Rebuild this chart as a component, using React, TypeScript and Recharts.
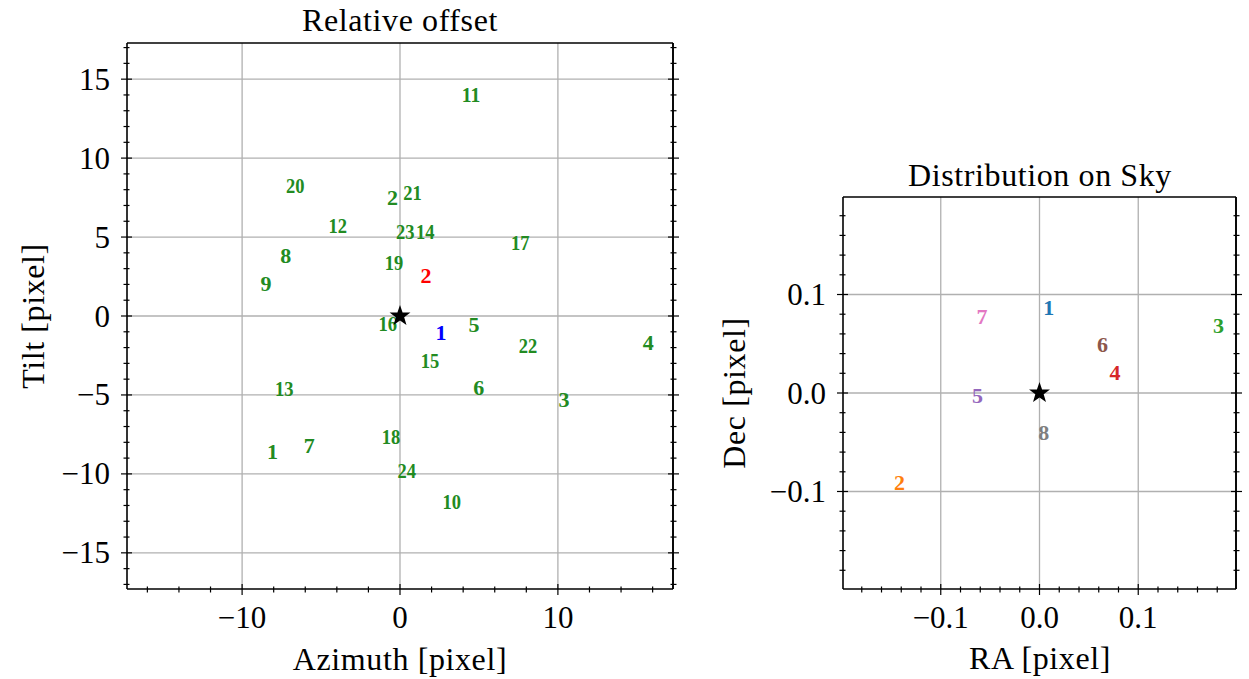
import React from 'react';
import { ScatterChart, Scatter, XAxis, YAxis, ReferenceLine } from 'recharts';

// ---------- Relative offset panel (azimuth / tilt, pixels) ----------
const camIds = ['1', '2', '3', '4', '5', '6', '7', '8', '9', '10', '11', '12', '13', '14', '15', '16', '17', '18', '19', '20', '21', '22', '23', '24'];
const camAzimuth = [-8.08, -0.48, 10.38, 15.72, 4.68, 4.98, -5.75, -7.24, -8.48, 3.28, 4.5, -3.94, -7.33, 1.6, 1.9, -0.77, 7.62, -0.57, -0.38, -6.63, 0.79, 8.1, 0.34, 0.43];
const camTilt = [-8.6, 7.48, -5.29, -1.67, -0.53, -4.52, -8.22, 3.81, 2.05, -11.78, 14.0, 5.75, -4.61, 5.33, -2.85, -0.46, 4.67, -7.61, 3.38, 8.29, 7.82, -1.87, 5.33, -9.81];

const redIds = ['2'];
const redAzimuth = [1.65];
const redTilt = [2.58];

const blueIds = ['1'];
const blueAzimuth = [2.6];
const blueTilt = [-1.04];

const offsetDomain: [number, number] = [-17.29, 17.29];
const offsetXTicks = [-16, -14, -12, -10, -8, -6, -4, -2, 0, 2, 4, 6, 8, 10, 12, 14, 16];
const offsetXMajor = [-10, 0, 10];
const offsetYTicks = [-17, -16, -15, -14, -13, -12, -11, -10, -9, -8, -7, -6, -5, -4, -3, -2, -1, 0, 1, 2, 3, 4, 5, 6, 7, 8, 9, 10, 11, 12, 13, 14, 15, 16, 17];
const offsetYMajor = [-15, -10, -5, 0, 5, 10, 15];

// ---------- Distribution on sky panel (RA / Dec, pixels) ----------
const skyIds = ['1', '2', '3', '4', '5', '6', '7', '8'];
const skyRA = [0.0094, -0.1418, 0.1812, 0.0765, -0.0629, 0.0639, -0.0582, 0.0044];
const skyDec = [0.0864, -0.0908, 0.0682, 0.0212, -0.0027, 0.0497, 0.0773, -0.0404];

const skyDomain: [number, number] = [-0.199, 0.199];
const skyTicks = [-0.18, -0.16, -0.14, -0.12, -0.1, -0.08, -0.06, -0.04, -0.02, 0, 0.02, 0.04, 0.06, 0.08, 0.1, 0.12, 0.14, 0.16, 0.18];
const skyMajor = [-0.1, 0, 0.1];

const originPoint = [{ x: 0, y: 0 }];

// ---------- styling ----------
const FONT = '"Liberation Serif", "Times New Roman", serif';
const GRID = '#b0b0b0';
const skyPalette = ['#1f77b4', '#ff7f0e', '#2ca02c', '#d62728', '#9467bd', '#8c564b', '#e377c2', '#7f7f7f'];

const zip = (ids: string[], xs: number[], ys: number[]) =>
  ids.map((id, i) => ({ id, x: xs[i], y: ys[i], idx: i }));

const camData = zip(camIds, camAzimuth, camTilt);
const redData = zip(redIds, redAzimuth, redTilt);
const blueData = zip(blueIds, blueAzimuth, blueTilt);
const skyData = zip(skyIds, skyRA, skyDec);

const isIn = (list: number[], v: number) => list.some((m) => Math.abs(m - v) < 1e-9);

const fmtInt = (v: number) => (v < 0 ? '\u2212' + Math.abs(v) : String(v));
const fmtOne = (v: number) => (v < 0 ? '\u2212' + Math.abs(v).toFixed(1) : Math.abs(v).toFixed(1));

type Side = 'bottom' | 'top' | 'left' | 'right';

// Tick marks cross the frame (in and out); labels only on bottom/left majors.
function makeTick(side: Side, majors: number[], fmt?: (v: number) => string) {
  return (props: any) => {
    const { x, y, payload } = props;
    const v = payload.value as number;
    const major = isIn(majors, v);
    const out = major ? 6 : 3.5;
    const inn = major ? 5 : 2.5;
    const sw = 1.2;
    let line;
    let label = null;
    if (side === 'bottom') {
      line = <line x1={x} y1={y - inn} x2={x} y2={y + out} stroke="#000" strokeWidth={sw} />;
      if (major && fmt)
        label = (
          <text x={x} y={y + 39} textAnchor="middle" fontFamily={FONT} fontSize={31} fill="#000">
            {fmt(v)}
          </text>
        );
    } else if (side === 'top') {
      line = <line x1={x} y1={y + inn} x2={x} y2={y - out} stroke="#000" strokeWidth={sw} />;
    } else if (side === 'left') {
      line = <line x1={x - out} y1={y} x2={x + inn} y2={y} stroke="#000" strokeWidth={sw} />;
      if (major && fmt)
        label = (
          <text x={x - 17} y={y} dy="0.34em" textAnchor="end" fontFamily={FONT} fontSize={31} fill="#000">
            {fmt(v)}
          </text>
        );
    } else {
      line = <line x1={x + out} y1={y} x2={x - inn} y2={y} stroke="#000" strokeWidth={sw} />;
    }
    return (
      <g>
        {line}
        {label}
      </g>
    );
  };
}

// Each point is drawn as its bold index number, centred on the data position.
const labelShape = (colorOf: (p: any) => string) => (props: any) => {
  const { cx, cy, payload } = props;
  const digits = String(payload.id).length;
  return (
    <text
      x={cx}
      y={cy}
      dy="0.34em"
      textAnchor="middle"
      fontFamily={FONT}
      fontWeight="bold"
      fontSize={22}
      textLength={digits > 1 ? 18.5 : undefined}
      lengthAdjust="spacingAndGlyphs"
      fill={colorOf(payload)}
    >
      {payload.id}
    </text>
  );
};

const starShape = (props: any) => {
  const { cx, cy } = props;
  const R = 11;
  const r = 4.4;
  const pts: string[] = [];
  for (let k = 0; k < 10; k++) {
    const rad = k % 2 === 0 ? R : r;
    const a = -Math.PI / 2 + (k * Math.PI) / 5;
    pts.push(`${cx + rad * Math.cos(a)},${cy + rad * Math.sin(a)}`);
  }
  return <polygon points={pts.join(' ')} fill="#000" />;
};

const axisLine = { stroke: '#000', strokeWidth: 1.6 };

function OffsetPanel() {
  return (
    <ScatterChart width={720} height={679} margin={{ top: 43, right: 0, bottom: 0, left: 0 }}>
      <XAxis
        xAxisId="b"
        type="number"
        dataKey="x"
        orientation="bottom"
        domain={offsetDomain}
        allowDataOverflow
        ticks={offsetXTicks}
        interval={0}
        height={90}
        tickSize={0}
        tickMargin={0}
        tickLine={false}
        axisLine={axisLine}
        tick={makeTick('bottom', offsetXMajor, fmtInt)}
      />
      <XAxis
        xAxisId="t"
        type="number"
        orientation="top"
        domain={offsetDomain}
        allowDataOverflow
        ticks={offsetXTicks}
        interval={0}
        height={0}
        tickSize={0}
        tickMargin={0}
        tickLine={false}
        axisLine={axisLine}
        tick={makeTick('top', offsetXMajor)}
      />
      <YAxis
        yAxisId="l"
        type="number"
        dataKey="y"
        orientation="left"
        domain={offsetDomain}
        allowDataOverflow
        ticks={offsetYTicks}
        interval={0}
        width={127}
        tickSize={0}
        tickMargin={0}
        tickLine={false}
        axisLine={axisLine}
        tick={makeTick('left', offsetYMajor, fmtInt)}
      />
      <YAxis
        yAxisId="r"
        type="number"
        orientation="right"
        domain={offsetDomain}
        allowDataOverflow
        ticks={offsetYTicks}
        interval={0}
        width={47}
        tickSize={0}
        tickMargin={0}
        tickLine={false}
        axisLine={axisLine}
        tick={makeTick('right', offsetYMajor)}
      />
      {offsetXMajor.map((v) => (
        <ReferenceLine key={'gx' + v} x={v} xAxisId="b" yAxisId="l" stroke={GRID} strokeWidth={1.3} />
      ))}
      {offsetYMajor.map((v) => (
        <ReferenceLine key={'gy' + v} y={v} xAxisId="b" yAxisId="l" stroke={GRID} strokeWidth={1.3} />
      ))}
      <ReferenceLine x={offsetDomain[1]} xAxisId="b" yAxisId="l" stroke="#000" strokeWidth={1.6} />
      <ReferenceLine y={offsetDomain[1]} xAxisId="b" yAxisId="l" stroke="#000" strokeWidth={1.6} />
      <Scatter xAxisId="b" yAxisId="l" data={camData} isAnimationActive={false} shape={labelShape(() => '#228b22')} />
      <Scatter xAxisId="b" yAxisId="l" data={redData} isAnimationActive={false} shape={labelShape(() => '#ff0000')} />
      <Scatter xAxisId="b" yAxisId="l" data={blueData} isAnimationActive={false} shape={labelShape(() => '#0000ff')} />
      <Scatter xAxisId="b" yAxisId="l" data={originPoint} isAnimationActive={false} shape={starShape} />
    </ScatterChart>
  );
}

function SkyPanel() {
  return (
    <ScatterChart width={529} height={679} margin={{ top: 197, right: 0, bottom: 0, left: 0 }}>
      <XAxis
        xAxisId="b"
        type="number"
        dataKey="x"
        orientation="bottom"
        domain={skyDomain}
        allowDataOverflow
        ticks={skyTicks}
        interval={0}
        height={90}
        tickSize={0}
        tickMargin={0}
        tickLine={false}
        axisLine={axisLine}
        tick={makeTick('bottom', skyMajor, fmtOne)}
      />
      <XAxis
        xAxisId="t"
        type="number"
        orientation="top"
        domain={skyDomain}
        allowDataOverflow
        ticks={skyTicks}
        interval={0}
        height={0}
        tickSize={0}
        tickMargin={0}
        tickLine={false}
        axisLine={axisLine}
        tick={makeTick('top', skyMajor)}
      />
      <YAxis
        yAxisId="l"
        type="number"
        dataKey="y"
        orientation="left"
        domain={skyDomain}
        allowDataOverflow
        ticks={skyTicks}
        interval={0}
        width={123}
        tickSize={0}
        tickMargin={0}
        tickLine={false}
        axisLine={axisLine}
        tick={makeTick('left', skyMajor, fmtOne)}
      />
      <YAxis
        yAxisId="r"
        type="number"
        orientation="right"
        domain={skyDomain}
        allowDataOverflow
        ticks={skyTicks}
        interval={0}
        width={13}
        tickSize={0}
        tickMargin={0}
        tickLine={false}
        axisLine={axisLine}
        tick={makeTick('right', skyMajor)}
      />
      {skyMajor.map((v) => (
        <ReferenceLine key={'gx' + v} x={v} xAxisId="b" yAxisId="l" stroke={GRID} strokeWidth={1.3} />
      ))}
      {skyMajor.map((v) => (
        <ReferenceLine key={'gy' + v} y={v} xAxisId="b" yAxisId="l" stroke={GRID} strokeWidth={1.3} />
      ))}
      <ReferenceLine x={skyDomain[1]} xAxisId="b" yAxisId="l" stroke="#000" strokeWidth={1.6} />
      <ReferenceLine y={skyDomain[1]} xAxisId="b" yAxisId="l" stroke="#000" strokeWidth={1.6} />
      <Scatter
        xAxisId="b"
        yAxisId="l"
        data={skyData}
        isAnimationActive={false}
        shape={labelShape((p) => skyPalette[p.idx % skyPalette.length])}
      />
      <Scatter xAxisId="b" yAxisId="l" data={originPoint} isAnimationActive={false} shape={starShape} />
    </ScatterChart>
  );
}

export default function App() {
  const textStyle = { fontFamily: FONT, fontSize: 32, fill: '#000', letterSpacing: 0.6 } as const;
  return (
    <div style={{ position: 'absolute', left: 0, top: 0, width: 1249, height: 679, background: '#fff', overflow: 'hidden' }}>
      <div style={{ position: 'absolute', left: 0, top: 0 }}>
        <OffsetPanel />
      </div>
      <div style={{ position: 'absolute', left: 720, top: 0 }}>
        <SkyPanel />
      </div>
      <svg width={1249} height={679} style={{ position: 'absolute', left: 0, top: 0, pointerEvents: 'none' }}>
        <text x={400} y={31} textAnchor="middle" {...textStyle}>Relative offset</text>
        <text x={400} y={670} textAnchor="middle" {...textStyle}>Azimuth [pixel]</text>
        <text x={44} y={316} textAnchor="middle" transform="rotate(-90 44 316)" {...textStyle}>Tilt [pixel]</text>
        <text x={1040} y={186} textAnchor="middle" {...textStyle}>Distribution on Sky</text>
        <text x={1040} y={669} textAnchor="middle" {...textStyle}>RA [pixel]</text>
        <text x={745} y={393} textAnchor="middle" transform="rotate(-90 745 393)" {...textStyle}>Dec [pixel]</text>
      </svg>
    </div>
  );
}
